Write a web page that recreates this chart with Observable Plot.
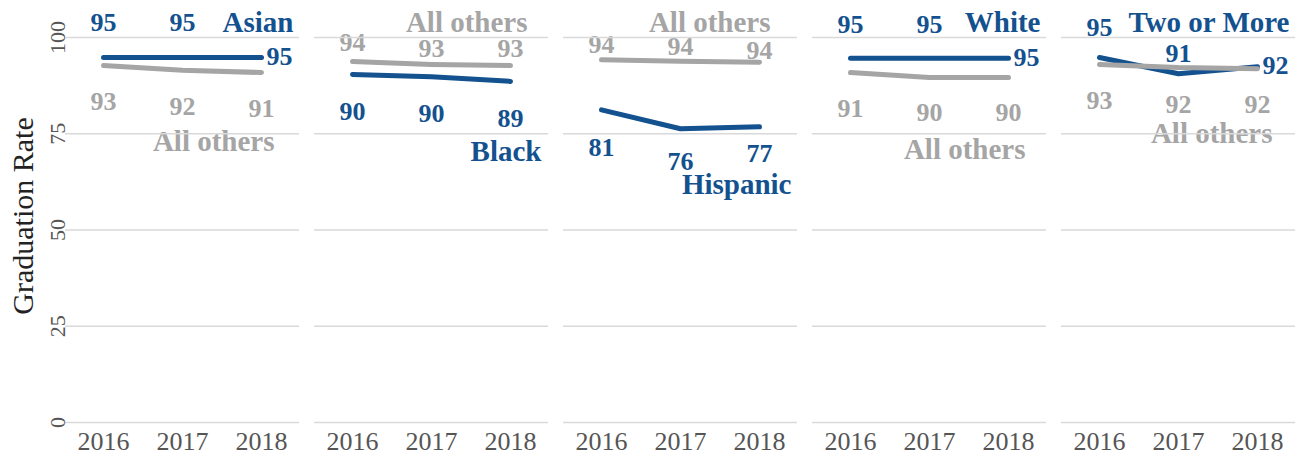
<!DOCTYPE html>
<html><head><meta charset="utf-8">
<script src="https://cdn.jsdelivr.net/npm/d3@7"></script>
<script src="https://cdn.jsdelivr.net/npm/@observablehq/plot@0.6"></script>
<style>
body{margin:0;background:#fff;}
#chart svg{font-family:"Liberation Serif","Times New Roman",serif;background:#fff;}
</style></head><body><div id="chart"></div>
<script>
// ---- data ----
const groups = ["Asian", "Black", "Hispanic", "White", "Two or More"];
const years = [2016, 2017, 2018];
const yTicks = [0, 25, 50, 75, 100];
const othersName = "All others";

const asian = [94.8, 94.8, 94.8];
const asianOthers = [92.7, 91.5, 90.9];
const black = [90.4, 89.8, 88.6];
const blackOthers = [93.75, 93.0, 92.7];
const hispanic = [81.2, 76.3, 76.8];
const hispanicOthers = [94.2, 93.8, 93.6];
const white = [94.6, 94.6, 94.6];
const whiteOthers = [90.9, 89.6, 89.6];
const twoOrMore = [94.8, 90.6, 92.4];
const twoOrMoreOthers = [93.0, 92.2, 91.9];

// ---- styling ----
const blue = "#13518f", gray = "#a5a5a5";
const numSize = 26, wordSize = 29;

const groupValues = [asian, black, hispanic, white, twoOrMore];
const othersValues = [asianOthers, blackOthers, hispanicOthers, whiteOthers, twoOrMoreOthers];
const rows = [];
groups.forEach((g, i) => years.forEach((yr, j) => {
  rows.push({group: g, year: yr, rate: groupValues[i][j], series: "group"});
  rows.push({group: g, year: yr, rate: othersValues[i][j], series: "others"});
}));

// label placement (pixel offsets)
const layout = {
  "Asian":       {group: [-35, -35, "R"], others: [36, 36, 36],   name: {top: true, dx: -6},  othersName: {dx: 13, dy: 69}},
  "Black":       {group: [37, 37, 37],    others: [-19, -16, -17], name: {dx: 31, dy: 70},     othersName: {top: true, dx: -21}},
  "Hispanic":    {group: [38, 33, 27],    others: [-15, -15, -11], name: {dx: 32, dy: 58},     othersName: {top: true, dx: -27}},
  "White":       {group: [-34, -34, "R"], others: [36, 35, 35],   name: {top: true, dx: -6},  othersName: {dx: 17, dy: 72}},
  "Two or More": {group: [-30, -20, "R"], others: [36, 37, 36],   name: {top: true, dx: -6},  othersName: {dx: 15, dy: 65}}
};

const textBase = {fontWeight: "bold", lineAnchor: "middle"};
const labelMarks = [];
rows.forEach(r => {
  const off = layout[r.group][r.series][years.indexOf(r.year)];
  const fill = r.series === "group" ? blue : gray;
  const common = {...textBase, fontSize: numSize, fx: "group", x: "year", y: "rate", fill, text: d => String(Math.round(d.rate))};
  if (off === "R") labelMarks.push(Plot.text([r], {...common, textAnchor: "start", dx: 5, dy: -1}));
  else labelMarks.push(Plot.text([r], {...common, textAnchor: "middle", dy: off}));
});
groups.forEach(g => {
  const L = layout[g];
  [["group", g, blue, L.name], ["others", othersName, gray, L.othersName]].forEach(([s, label, fill, pos]) => {
    if (pos.top) {
      labelMarks.push(Plot.text([{group: g}], {...textBase, fontSize: wordSize, fx: "group", frameAnchor: "top-right", textAnchor: "end", dx: pos.dx, dy: -15, fill, text: () => label}));
    } else {
      const last = rows.find(r => r.group === g && r.series === s && r.year === years[years.length - 1]);
      labelMarks.push(Plot.text([last], {...textBase, fontSize: wordSize, fx: "group", x: "year", y: "rate", textAnchor: "end", dx: pos.dx, dy: pos.dy, fill, text: () => label}));
    }
  });
});

const chart = Plot.plot({
  width: 1302,
  height: 460,
  marginLeft: 63,
  marginRight: 4,
  marginTop: 37,
  marginBottom: 38,
  style: {fontFamily: "Liberation Serif, Times New Roman, serif", background: "#fff"},
  fx: {domain: groups, paddingInner: 0.06, paddingOuter: 0, axis: null, label: null},
  x: {type: "point", domain: years, padding: 0.47, label: null},
  y: {domain: [0, 100], label: null},
  marks: [
    ...labelMarks,
    Plot.gridY(yTicks, {stroke: "#d9d9d9", strokeOpacity: 1, strokeWidth: 1.5}),
    Plot.axisY(yTicks, {tickSize: 0, tickRotate: -90, tickPadding: 8, textAnchor: "middle", lineAnchor: "middle", fontSize: 22, color: "#555", label: null}),
    Plot.axisX({tickSize: 0, tickPadding: 9, fontSize: 26, color: "#555", label: null, tickFormat: d => String(d)}),
    Plot.text([{group: groups[0]}], {fx: "group", frameAnchor: "left", textAnchor: "middle", lineAnchor: "middle", rotate: -90, dx: -42, dy: -14, fontSize: 30, fill: "#222", text: () => "Graduation Rate"}),
    Plot.lineY(rows.filter(r => r.series === "group"), {fx: "group", x: "year", y: "rate", stroke: blue, strokeWidth: 5, strokeLinecap: "round", strokeLinejoin: "round"}),
    Plot.lineY(rows.filter(r => r.series === "others"), {fx: "group", x: "year", y: "rate", stroke: gray, strokeWidth: 5, strokeLinecap: "round", strokeLinejoin: "round"})
  ]
});
document.getElementById("chart").appendChild(chart);
</script>
</body></html>
